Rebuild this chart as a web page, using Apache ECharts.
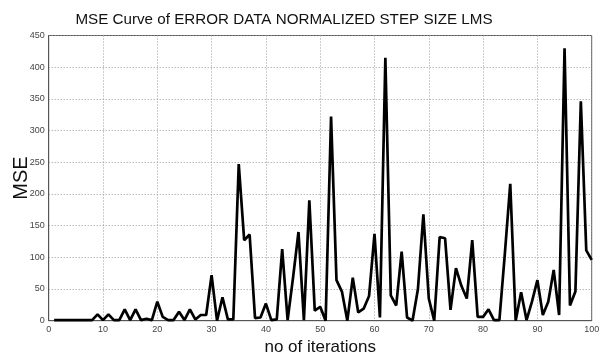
<!DOCTYPE html>
<html>
<head>
<meta charset="utf-8">
<script src="https://cdn.jsdelivr.net/npm/echarts@6/dist/echarts.min.js"></script>
<style>
  html, body { margin: 0; padding: 0; background: #fff; }
  #chart { width: 601px; height: 356px; }
</style>
</head>
<body>
<div id="chart"></div>
<script>
// iterations 1..100 and the MSE
const iterations = Array.from({ length: 100 }, (_, i) => i + 1);
const mse = [
  1, 1, 1, 1, 1, 1, 1, 1, 10, 1,
  10, 1, 1, 18, 1, 18, 1, 3, 1, 30,
  6, 1, 1, 14, 1, 18, 2, 9, 9, 72,
  0, 37, 2, 2, 247, 127, 136, 4, 5, 27,
  1, 2, 113, 1, 68, 140, 1, 190, 16, 22,
  0, 322, 64, 46, 0, 68, 13, 19, 39, 137,
  5, 415, 40, 24, 109, 5, 0, 50, 168, 35,
  0, 132, 130, 17, 83, 55, 35, 127, 6, 6,
  18, 1, 1, 105, 216, 0, 45, 1, 30, 64,
  9, 30, 80, 9, 430, 24, 46, 346, 111, 96
];
const xTicks = [0, 10, 20, 30, 40, 50, 60, 70, 80, 90, 100];
const yTicks = [0, 50, 100, 150, 200, 250, 300, 350, 400, 450];

const chart = echarts.init(document.getElementById('chart'));

const tickFont = { color: '#444', fontSize: 9, fontFamily: 'Liberation Sans Narrow, Liberation Sans, Arial' };
const grid = { type: [1, 2], color: '#999', width: 1 };

chart.setOption({
  animation: false,
  title: {
    text: 'MSE Curve of ERROR DATA NORMALIZED STEP SIZE LMS',
    left: 279,
    top: 7,
    textAlign: 'center',
    textStyle: { fontFamily: 'Liberation Sans', fontWeight: 'normal', fontSize: 15.2, color: '#111' }
  },
  grid: {
    left: 48.7, right: 9.3, top: 35.5, bottom: 35.3,
    outerBoundsMode: 'none',
    show: true, borderColor: '#555', borderWidth: 1
  },
  xAxis: {
    type: 'value',
    min: xTicks[0], max: xTicks[xTicks.length - 1], interval: 10,
    name: 'no of iterations',
    nameLocation: 'middle',
    nameGap: 18,
    nameTextStyle: { fontFamily: 'Liberation Sans', fontSize: 17, color: '#111' },
    axisLine: { show: true, lineStyle: { color: '#555' } },
    axisTick: { show: false },
    axisLabel: { ...tickFont, margin: 4, formatter: v => xTicks.includes(v) ? v : '' },
    splitLine: { show: true, lineStyle: grid }
  },
  yAxis: {
    type: 'value',
    min: yTicks[0], max: yTicks[yTicks.length - 1], interval: 50,
    name: 'MSE',
    nameLocation: 'middle',
    nameGap: 17,
    nameMoveOverlap: false,
    nameTextStyle: { fontFamily: 'Liberation Sans', fontSize: 20, color: '#111' },
    axisLine: { show: true, lineStyle: { color: '#555' } },
    axisTick: { show: false },
    axisLabel: { ...tickFont, margin: 4 },
    splitLine: { show: true, lineStyle: grid }
  },
  series: [{
    type: 'line',
    data: iterations.map((x, i) => [x, mse[i]]),
    showSymbol: false,
    lineStyle: { color: '#000', width: 2.7 },
    z: 5
  }]
});
</script>
</body>
</html>
